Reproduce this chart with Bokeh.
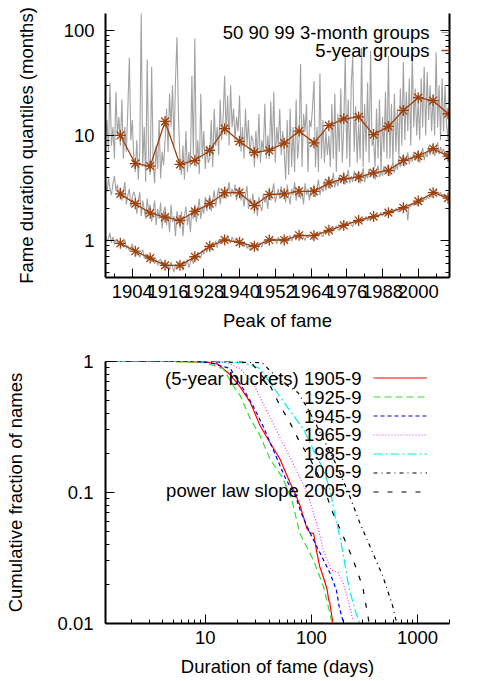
from bokeh.plotting import figure
from bokeh.layouts import column
from bokeh.models import (FixedTicker, Label, Legend, LegendItem, LogAxis,
                          Range1d, CustomJSTickFormatter)
from bokeh.embed import file_html
from bokeh.resources import INLINE

FONT = "Liberation Sans"
FS = "18.5px"
GREY = "#a2a2a2"
BROWN = "#a0400c"

# ---------------- top panel data ----------------
years_5y = [1900, 1905, 1910, 1915, 1920, 1925, 1930, 1935, 1940, 1945, 1950, 1955,
            1960, 1965, 1970, 1975, 1980, 1985, 1990, 1995, 2000, 2005, 2010]
q50_5y = [0.94, 0.79, 0.68, 0.58, 0.58, 0.70, 0.88, 1.01, 0.96, 0.88, 1.01, 1.01,
          1.12, 1.11, 1.25, 1.39, 1.55, 1.69, 1.84, 2.05, 2.37, 2.85, 2.53]
q90_5y = [2.78, 2.24, 1.82, 1.67, 1.55, 1.89, 2.24, 2.85, 2.85, 2.15, 2.74, 2.78,
          2.93, 2.93, 3.54, 3.87, 4.01, 4.41, 4.64, 5.78, 6.35, 7.47, 6.35]
q99_5y = [10.0, 5.4, 5.1, 13.6, 5.3, 5.8, 7.2, 11.6, 8.8, 6.9, 7.2, 8.45,
          11.0, 8.5, 12.4, 14.4, 15.0, 10.2, 12.2, 17.3, 22.9, 21.5, 16.1]

# short-period groups, first group 1895, every half year
group_start = 1895.0
g50 = [1.12, 0.98, 1.05, 1.18, 0.95, 1.08, 0.92, 1.02, 0.97, 0.90,
       0.99, 0.88, 0.93, 1.01, 0.84, 0.90, 0.80, 0.86, 0.93, 0.79,
       0.80, 0.72, 0.78, 0.69, 0.75, 0.82, 0.68, 0.73, 0.66, 0.71,
       0.70, 0.63, 0.69, 0.60, 0.66, 0.58, 0.64, 0.67, 0.57, 0.62,
       0.61, 0.54, 0.60, 0.52, 0.63, 0.56, 0.50, 0.59, 0.55, 0.62,
       0.56, 0.61, 0.52, 0.64, 0.58, 0.66, 0.55, 0.62, 0.69, 0.60,
       0.73, 0.65, 0.78, 0.70, 0.68, 0.81, 0.74, 0.86, 0.77, 0.83,
       0.90, 0.81, 0.95, 0.87, 0.99, 0.85, 1.02, 0.93, 0.98, 1.08,
       1.05, 0.96, 1.12, 1.00, 0.94, 1.08, 1.01, 0.95, 1.06, 0.98,
       0.99, 0.91, 0.97, 0.87, 0.93, 0.84, 0.90, 0.80, 0.88, 0.95,
       0.83, 0.90, 0.79, 0.88, 0.95, 0.86, 0.98, 0.92, 1.00, 0.94,
       1.06, 0.97, 1.10, 0.99, 1.04, 0.93, 1.08, 1.01, 0.96, 1.07,
       1.00, 1.09, 0.95, 1.05, 1.12, 0.98, 1.06, 1.14, 1.01, 1.10,
       1.13, 1.03, 1.16, 1.07, 1.00, 1.11, 1.05, 1.15, 1.08, 1.02,
       1.12, 1.05, 1.18, 1.10, 1.22, 1.13, 1.08, 1.24, 1.17, 1.28,
       1.21, 1.30, 1.19, 1.34, 1.26, 1.38, 1.29, 1.24, 1.40, 1.32,
       1.44, 1.33, 1.47, 1.38, 1.52, 1.41, 1.35, 1.56, 1.46, 1.51,
       1.50, 1.60, 1.48, 1.64, 1.57, 1.70, 1.53, 1.66, 1.61, 1.72,
       1.74, 1.63, 1.80, 1.68, 1.76, 1.85, 1.71, 1.82, 1.90, 1.77,
       1.80, 1.92, 1.84, 1.98, 1.88, 2.03, 1.91, 1.86, 2.06, 1.97,
       2.08, 1.96, 2.12, 1.55, 2.20, 2.10, 2.25, 2.15, 2.30, 2.18,
       2.36, 2.24, 2.45, 2.35, 2.52, 2.42, 2.62, 2.50, 2.70, 2.58,
       2.95, 2.78, 3.05, 2.85, 2.72, 2.90, 2.64, 2.76, 2.55, 2.68,
       2.48, 2.56]
g90 = [3.6, 2.9, 3.9, 3.1, 2.7, 3.5, 4.1, 3.0, 3.4, 2.6,
       3.2, 2.4, 2.9, 3.6, 2.2, 2.7, 3.1, 2.1, 2.6, 2.9,
       2.6, 1.8, 2.3, 2.9, 1.7, 2.4, 2.0, 1.6, 2.5, 1.9,
       2.2, 1.5, 1.9, 2.4, 1.4, 2.0, 1.6, 2.3, 1.3, 1.9,
       2.1, 1.4, 1.8, 1.2, 2.2, 1.5, 1.7, 1.1, 1.9, 1.6,
       1.3, 1.9, 1.1, 1.7, 2.1, 1.4, 1.8, 1.2, 2.0, 1.6,
       2.2, 1.5, 2.0, 2.5, 1.6, 2.1, 1.8, 2.6, 1.9, 2.3,
       2.7, 1.9, 2.4, 3.0, 2.1, 2.6, 3.2, 2.2, 2.8, 2.5,
       3.3, 2.5, 3.0, 3.6, 2.6, 3.1, 2.7, 3.4, 2.4, 3.0,
       3.2, 2.4, 2.9, 2.1, 2.7, 3.3, 2.0, 2.5, 2.2, 2.8,
       1.8, 2.4, 1.7, 2.6, 2.1, 1.9, 2.8, 2.3, 2.6, 2.0,
       3.2, 2.4, 2.9, 3.5, 2.3, 2.7, 3.1, 2.5, 3.3, 2.6,
       3.0, 2.3, 3.4, 2.6, 2.2, 3.1, 2.7, 3.6, 2.4, 2.9,
       3.3, 2.5, 2.9, 2.2, 3.5, 2.7, 3.1, 2.4, 3.2, 2.8,
       3.4, 2.6, 3.1, 3.8, 2.7, 3.3, 2.9, 3.7, 3.0, 3.5,
       4.1, 3.1, 3.6, 4.4, 3.2, 3.8, 3.3, 4.2, 3.5, 3.9,
       4.5, 3.4, 4.0, 4.7, 3.5, 4.1, 3.6, 4.6, 3.8, 4.2,
       4.6, 3.5, 4.2, 4.9, 3.6, 4.3, 3.9, 4.8, 4.0, 4.5,
       5.0, 3.8, 4.5, 5.2, 4.0, 4.6, 4.1, 5.1, 4.3, 4.8,
       5.3, 4.1, 4.9, 5.6, 4.4, 5.4, 4.7, 6.0, 5.0, 5.7,
       6.6, 5.1, 6.0, 6.9, 5.3, 6.3, 5.6, 7.0, 5.8, 6.4,
       7.2, 5.5, 6.6, 7.6, 5.8, 6.9, 6.2, 7.9, 6.5, 7.3,
       8.2, 6.4, 7.4, 8.6, 6.6, 7.8, 6.8, 7.5, 6.3, 7.1,
       6.5, 7.0]
g99 = [9, 14, 7, 32, 8, 12, 6, 26, 10, 15,
       8, 22, 6, 12, 7, 18, 55, 9, 14, 6,
       4.5, 9, 3.8, 7, 150, 5, 12, 3.6, 53, 6,
       4.2, 45, 5.5, 3.5, 8, 4.8, 14, 3.9, 7, 5.2,
       9, 18, 7, 25, 12, 30, 8, 33, 86, 15,
       6, 4.2, 8, 3.8, 11, 4.5, 7, 5, 37, 6.5,
       84, 5, 9, 4.3, 25, 6, 11, 4.8, 8, 5.5,
       6, 14, 5, 18, 8, 12, 6.5, 22, 9, 15,
       37, 10, 24, 8, 30, 12, 18, 9, 15, 11,
       24, 7, 12, 6, 18, 8, 14, 6.5, 10, 9,
       5, 11, 6, 16, 5.5, 9, 7, 20, 6, 10,
       6, 21, 7, 26, 5.5, 12, 8, 18, 6.5, 11,
       7, 3.8, 14, 4.2, 18, 5, 12, 4.5, 22, 6,
       9, 48, 5, 16, 11, 20, 4.5, 14, 12, 18,
       33, 5, 12, 4.5, 39, 6, 14, 5.5, 11, 6.5,
       10, 5, 20, 6, 25, 4.5, 16, 7, 28, 5.5,
       12, 60, 6, 22, 5, 30, 57, 7, 19, 5.5,
       13, 6, 68, 5, 20, 7, 32, 5.5, 64, 8,
       9, 5, 18, 6, 22, 4.5, 15, 7, 26, 6,
       57, 6, 20, 5.5, 25, 7, 18, 6, 28, 8,
       50, 9, 26, 11, 35, 8, 60, 12, 28, 10,
       22, 9, 35, 12, 45, 10, 40, 14, 30, 11,
       25, 10, 62, 12, 30, 9, 35, 11, 30, 13,
       9, 25]
half_years = [group_start + 0.5 * i for i in range(len(g50))]

top_xticks = [1904, 1916, 1928, 1940, 1952, 1964, 1976, 1988, 2000]
top_xminor = [1898, 1910, 1922, 1934, 1946, 1958, 1970, 1982, 1994, 2006]
top_legend = ["50 90 99 3-month groups", "5-year groups"]

# ---------------- bottom panel data ----------------
cdf_labels = ["(5-year buckets) 1905-9", "1925-9", "1945-9", "1965-9", "1985-9",
              "2005-9", "power law slope 2005-9"]
d1905 = [1, 5, 10, 13, 17, 21.3, 26.5, 32.8, 40.8, 50.6, 62.8, 70, 78, 90.8, 96.8,
         105, 112.7, 120, 125.6, 140, 146, 149, 159]
f1905 = [1, 1, 0.99, 0.96, 0.8, 0.64, 0.49, 0.325, 0.24, 0.18, 0.119, 0.1, 0.08, 0.053,
         0.0495, 0.0486, 0.0348, 0.027, 0.0245, 0.0185, 0.015, 0.0145, 0.0102]
d1925 = [1, 5, 10, 14.8, 18.3, 21.3, 26.5, 32.8, 40.8, 54, 65.6, 78, 105.5, 131, 155.6]
f1925 = [1, 1, 0.98, 0.88, 0.656, 0.55, 0.367, 0.272, 0.18, 0.128, 0.087, 0.0486,
         0.030, 0.0188, 0.0104]
d1945 = [1, 8, 11.1, 17.2, 22.7, 28.1, 34.8, 46.1, 57, 70.6, 80, 96.8, 120, 149, 172,
         184, 200]
f1945 = [1, 1, 0.98, 0.884, 0.622, 0.462, 0.325, 0.192, 0.128, 0.095, 0.07, 0.0495,
         0.0348, 0.0245, 0.018, 0.0131, 0.0102]
d1965 = [1, 10, 16, 21.3, 28.1, 34.8, 43.1, 53.5, 66.4, 82.4, 96.8, 117, 130, 154, 178,
         200, 222, 246]
f1965 = [1, 1, 0.98, 0.884, 0.69, 0.486, 0.343, 0.241, 0.17, 0.119, 0.087, 0.0513,
         0.036, 0.0256, 0.0245, 0.0202, 0.015, 0.0106]
d1985 = [1, 13, 22.7, 32.8, 40.8, 50.6, 62.8, 83.5, 103, 128, 149, 170, 190, 206, 225,
         258, 285]
f1985 = [1, 1, 0.98, 0.884, 0.69, 0.54, 0.42, 0.308, 0.217, 0.153, 0.107, 0.062, 0.042,
         0.029, 0.019, 0.0126, 0.0101]
d2005 = [1, 9, 34.3, 50.6, 74.7, 94.8, 173, 225, 285, 378, 469, 582, 635]
f2005 = [1, 1, 0.98, 0.716, 0.58, 0.423, 0.161, 0.098, 0.059, 0.0348, 0.0232, 0.0137,
         0.0101]
dpow = [1, 21.3, 27.6, 40.8, 50.6, 62.8, 78, 96.8, 128, 159, 198, 246, 305, 350]
fpow = [1, 1, 0.965, 0.656, 0.461, 0.342, 0.241, 0.182, 0.115, 0.07, 0.047, 0.031,
        0.019, 0.0101]


def style_axis(ax, tick_in=9, minor_in=4):
    ax.major_label_text_font = FONT
    ax.major_label_text_font_size = FS
    ax.major_label_text_color = "black"
    ax.axis_label_text_font = FONT
    ax.axis_label_text_font_size = FS
    ax.axis_label_text_font_style = "normal"
    ax.axis_label_text_color = "black"
    ax.axis_line_color = "black"
    ax.axis_line_width = 2
    ax.major_tick_line_color = "black"
    ax.minor_tick_line_color = "black"
    ax.major_tick_in = tick_in
    ax.major_tick_out = 0
    ax.minor_tick_in = minor_in
    ax.minor_tick_out = 0


log_minor = [m * 10.0 ** e for e in (-2, -1, 0, 1, 2, 3) for m in range(2, 10)]
plain = CustomJSTickFormatter(code="return tick.toString()")

# ================= top figure =================
p1 = figure(width=504, height=340, y_axis_type="log",
            x_range=Range1d(1895, 2010.5), y_range=Range1d(0.444, 145),
            output_backend="svg", toolbar_location=None,
            min_border_left=94, min_border_right=1, min_border_top=13,
            min_border_bottom=63,
            x_axis_label="Peak of fame",
            y_axis_label="Fame duration quantiles (months)")
p1.xgrid.visible = False
p1.ygrid.visible = False
p1.outline_line_color = None

gr = None
for g in (g50, g90, g99):
    gr = p1.line(half_years, g, line_color=GREY, line_width=1.1)
brown_parts = []
for q in (q50_5y, q90_5y, q99_5y):
    bl = p1.line(years_5y, q, line_color=BROWN, line_width=1.3)
    bs = p1.scatter(years_5y, q, marker="asterisk", size=11,
                    line_color=BROWN, line_width=1.3)
    brown_parts = [bl, bs]

xa = p1.xaxis[0]
style_axis(xa)
xa.ticker = FixedTicker(ticks=top_xticks, minor_ticks=top_xminor)
xa.formatter = plain
xa.major_label_standoff = 7
xa.axis_label_standoff = 9

ya = p1.yaxis[0]
style_axis(ya)
ya.ticker = FixedTicker(ticks=[1, 10, 100], minor_ticks=log_minor)
ya.formatter = plain
ya.major_label_standoff = 11
ya.axis_label_standoff = 24

ra = LogAxis(ticker=FixedTicker(ticks=[1, 10, 100], minor_ticks=log_minor),
             formatter=CustomJSTickFormatter(code="return ''"))
style_axis(ra)
ra.major_label_text_font_size = "0px"
ra.major_label_standoff = 0
p1.add_layout(ra, "right")

leg1 = Legend(items=[LegendItem(label=" ", renderers=[gr]),
                     LegendItem(label=" ", renderers=brown_parts)],
              location=(336, 218), orientation="vertical",
              glyph_width=53, glyph_height=18, label_height=18, label_width=0,
              label_standoff=0, spacing=0, padding=0, margin=0,
              label_text_font_size="1px", border_line_alpha=0,
              background_fill_alpha=0)
p1.add_layout(leg1)
for i, t in enumerate(top_legend):
    p1.add_layout(Label(x=324, y=245 - 18 * i, x_units="screen", y_units="screen",
                        text=t, text_align="right", text_baseline="middle",
                        text_font=FONT, text_font_size=FS, text_color="black"))

# ================= bottom figure =================
p2 = figure(width=504, height=341, x_axis_type="log", y_axis_type="log",
            x_range=Range1d(1.15, 2000), y_range=Range1d(0.01, 1),
            output_backend="svg", toolbar_location=None,
            min_border_left=105, min_border_right=55, min_border_top=21,
            min_border_bottom=58,
            x_axis_label="Duration of fame (days)",
            y_axis_label="Cumulative fraction of names")
p2.xgrid.visible = False
p2.ygrid.visible = False
p2.outline_line_color = None

styles = [("#ff0000", "solid"), ("#33dd33", "7 4"), ("#0000ff", "4 3"),
          ("#ff33ff", "1 2"), ("#00eeee", "9 3 2 3"), ("#000000", "4 4 1 4"),
          ("#000000", "5 9")]
curves = [(d1905, f1905), (d1925, f1925), (d1945, f1945), (d1965, f1965),
          (d1985, f1985), (d2005, f2005), (dpow, fpow)]
rends = []
for (dx, fy), (c, dash) in zip(curves, styles):
    rends.append(p2.line(dx, fy, line_color=c, line_dash=dash, line_width=1.2))

xb = p2.xaxis[0]
style_axis(xb)
xb.ticker = FixedTicker(ticks=[10, 100, 1000], minor_ticks=log_minor)
xb.formatter = plain
xb.major_label_standoff = 7
xb.axis_label_standoff = 9

yb = p2.yaxis[0]
style_axis(yb)
yb.ticker = FixedTicker(ticks=[0.01, 0.1, 1], minor_ticks=log_minor)
yb.formatter = plain
yb.major_label_standoff = 12
yb.axis_label_standoff = 28

leg2 = Legend(items=[LegendItem(label=" ", renderers=[r]) for r in rends],
              location=(268, 122), orientation="vertical",
              glyph_width=54, glyph_height=19, label_height=19, label_width=0,
              label_standoff=0, spacing=0, padding=0, margin=0,
              label_text_font_size="1px", border_line_alpha=0,
              background_fill_alpha=0)
p2.add_layout(leg2)
for i, t in enumerate(cdf_labels):
    p2.add_layout(Label(x=256, y=623 - 378.3 - 18.6 * i, x_units="screen",
                        y_units="screen", text=t, text_align="right",
                        text_baseline="middle", text_font=FONT,
                        text_font_size=FS, text_color="black"))

layout = column(p1, p2, spacing=0)
open("out.html", "w").write(file_html(layout, INLINE))
